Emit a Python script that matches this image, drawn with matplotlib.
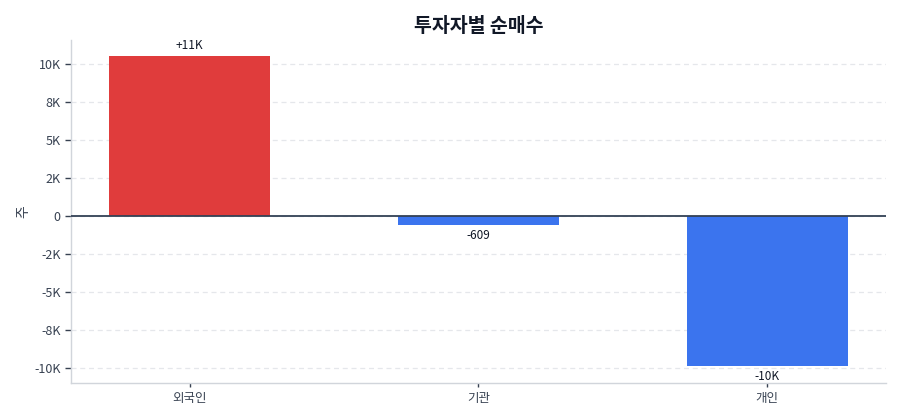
import numpy as np
import matplotlib
matplotlib.use('Agg')
import matplotlib.pyplot as plt
from matplotlib.ticker import FuncFormatter, MultipleLocator

plt.rcParams['font.family'] = ['Noto Sans CJK KR', 'DejaVu Sans']

# data
investors = ['외국인', '기관', '개인']
net_buy = [10520, -609, -9911]
title = '투자자별 순매수'
y_label = '주'

POS = '#e03c3c'
NEG = '#3b74ee'


def k_fmt(v, pos=None):
  if v == 0:
    return '0'
  return '%dK' % round(v / 1000)


def value_label(v):
  if abs(v) < 1000:
    return '%d' % v
  s = '%dK' % round(v / 1000)
  return '+' + s if v > 0 else s


fig = plt.figure(figsize=(9, 4.2), dpi=100)
ax = fig.add_axes([0.079, 0.089, 0.905, 0.816])

x = np.arange(len(investors))
vals = np.array(net_buy)
colors = [POS if v >= 0 else NEG for v in vals]
ax.bar(x, vals, 0.557, color=colors, zorder=2)

for xi, v in zip(x, vals):
  if v >= 0:
    ax.annotate(value_label(v), (xi, v), xytext=(0, 3), textcoords='offset points',
                ha='center', va='bottom', fontsize=8.5, color='#111827')
  else:
    ax.annotate(value_label(v), (xi, v), xytext=(0, -3), textcoords='offset points',
                ha='center', va='top', fontsize=8.5, color='#111827')

ax.axhline(0, color='#334155', lw=1.3, zorder=3)

ax.set_xlim(-0.41, len(investors) - 1 + 0.41)
ax.set_ylim(-10990, 11600)
ax.yaxis.set_major_locator(MultipleLocator(2500))
ax.yaxis.set_major_formatter(FuncFormatter(k_fmt))
ax.set_xticks(x)
ax.set_xticklabels(investors)

ax.grid(True, 'major', 'y', color='#e5e7eb', linestyle=(0, (4, 3)), lw=0.9, zorder=0)
for side in ['top', 'right']:
  ax.spines[side].set_visible(False)
for side in ['left', 'bottom']:
  ax.spines[side].set_color('#d1d5db')
  ax.spines[side].set_linewidth(1.0)

ax.tick_params(axis='both', colors='#374151', labelsize=9, length=4, width=1)
ax.tick_params(axis='x', length=3)
for lbl in ax.get_xticklabels() + ax.get_yticklabels():
  lbl.set_color('#374151')

ax.set_ylabel(y_label, fontsize=10, color='#374151', labelpad=3)
ax.set_title(title, fontsize=14, fontweight='bold', color='#111827', pad=6)

plt.savefig('out.png', dpi=100)
